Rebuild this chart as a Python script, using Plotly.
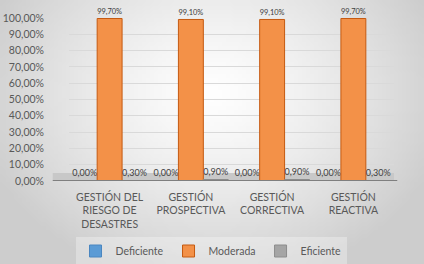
import base64, struct, zlib
import plotly.graph_objects as go

categories = ["GESTIÓN DEL<br>RIESGO DE<br>DESASTRES", "GESTIÓN<br>PROSPECTIVA",
              "GESTIÓN<br>CORRECTIVA", "GESTIÓN<br>REACTIVA"]
deficiente = [0.0, 0.0, 0.0, 0.0]
moderada = [99.7, 99.1, 99.1, 99.7]
eficiente = [0.3, 0.9, 0.9, 0.3]
tick_vals = [0, 10, 20, 30, 40, 50, 60, 70, 80, 90, 100]
tick_text = ["0,00%", "10,00%", "20,00%", "30,00%", "40,00%", "50,00%",
             "60,00%", "70,00%", "80,00%", "90,00%", "100,00%"]

W, H = 424, 264
L, R, T, B = 69, 30, 18, 83

# radial gray gradient background as PNG
def make_png(w, h):
    rows = b""
    for j in range(h):
        row = b"\x00"
        for i in range(w):
            dx = (i / (w - 1) - 0.5) / 0.5
            dy = (j / (h - 1) - 0.35) / 0.65
            d = min(1.0, (dx * dx + dy * dy) ** 0.5 / 1.15)
            v = int(255 - 50 * d ** 1.3)
            row += bytes([v, v, v])
        rows += row
    def chunk(t, d):
        c = struct.pack(">I", len(d)) + t + d
        return c + struct.pack(">I", zlib.crc32(t + d) & 0xffffffff)
    png = b"\x89PNG\r\n\x1a\n" + chunk(b"IHDR", struct.pack(">IIBBBBB", w, h, 8, 2, 0, 0, 0))
    png += chunk(b"IDAT", zlib.compress(rows)) + chunk(b"IEND", b"")
    return "data:image/png;base64," + base64.b64encode(png).decode()

pw, ph = W - L - R, H - T - B
font = "Lato, Open Sans, sans-serif"
lab = dict(family=font, size=10.5, color="#404040")

fig = go.Figure()
fig.add_bar(name="Deficiente", x=categories, y=deficiente, marker=dict(color="#5B9BD5", line=dict(color="#4a86c0", width=1)),
            texttemplate="%{y:.2f}%", textposition="outside", textfont=lab, cliponaxis=False)
fig.add_bar(name="Moderada", x=categories, y=moderada, marker=dict(color="#F39148", line=dict(color="#C55A11", width=1)),
            texttemplate="%{y:.2f}%", textposition="outside", textfont=lab, cliponaxis=False)
fig.add_bar(name="Eficiente", x=categories, y=eficiente, marker=dict(color="#A5A5A5", line=dict(color="#8c8c8c", width=1)),
            texttemplate="%{y:.2f}%", textposition="outside", textfont=lab, cliponaxis=False)

fig.update_layout(
    width=W, height=H, margin=dict(l=L, r=R, t=T, b=B, autoexpand=False),
    separators=",.",
    barmode="group", bargap=0.08, bargroupgap=0,
    paper_bgcolor="#e6e6e6", plot_bgcolor="rgba(0,0,0,0)",
    font=dict(family=font, size=10, color="#595959"),
    showlegend=True,
    legend=dict(orientation="h", x=(211 - L) / pw, xanchor="center", y=(H - B - 251) / ph, yanchor="middle",
                bgcolor="rgba(255,255,255,0.3)", font=dict(family=font, size=10.5, color="#595959"),
                itemwidth=30, traceorder="normal"),
    images=[dict(source=make_png(106, 66), xref="paper", yref="paper", x=-L / pw, y=1 + T / ph,
                 sizex=W / pw, sizey=H / ph, sizing="stretch", layer="below", xanchor="left", yanchor="top")],
    shapes=[dict(type="rect", xref="paper", yref="y", x0=-0.05, x1=1.0, y0=0, y1=8, ysizemode="pixel", yanchor=0,
                 fillcolor="#c8c8c8", line=dict(width=0), layer="below"),
            dict(type="line", xref="paper", yref="y", x0=-0.05, x1=1.01, y0=0, y1=0,
                 line=dict(color="#7f7f7f", width=2), layer="above")],
)
fig.update_yaxes(range=[0, 100], tickvals=tick_vals, ticktext=tick_text, automargin=False,
                 showgrid=True, gridcolor="#d9d9d9", gridwidth=1, zeroline=False,
                 ticklabelstandoff=24, tickfont=dict(size=10.5, color="#595959"))
fig.update_xaxes(showline=False, automargin=False, ticklabelstandoff=8,
                 tickfont=dict(size=10.5, color="#595959"), ticks="")
fig.write_html("out.html", config={"displayModeBar": False},
               post_script="document.body.style.margin='0';document.body.style.overflow='hidden';")
